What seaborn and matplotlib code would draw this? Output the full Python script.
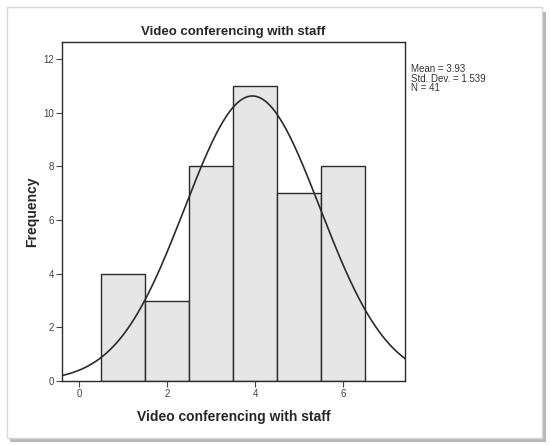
import numpy as np
import pandas as pd
import matplotlib
matplotlib.use('Agg')
import matplotlib.pyplot as plt
import seaborn as sns
from matplotlib.patches import Rectangle

# Veriler (SPSS histogramından okundu)
scores = [1, 2, 3, 4, 5, 6]
freqs = [4, 3, 8, 11, 7, 8]
mean_val = 3.93
sd_val = 1.539
n_total = 41
title = 'Video conferencing with staff'

sns.set_style('white')
plt.rcParams['font.family'] = ['Liberation Sans', 'DejaVu Sans']

df = pd.DataFrame({'score': scores, 'freq': freqs})

fig = plt.figure(figsize=(5.5, 4.45), dpi=100)

# dış çerçeve + gölge
fig.patches.append(Rectangle((0.018, 0.006), 0.974, 0.968, transform=fig.transFigure,
                             facecolor='#b8b8b8', edgecolor='none', zorder=0))
fig.patches.append(Rectangle((0.012, 0.016), 0.974, 0.968, transform=fig.transFigure,
                             facecolor='white', edgecolor='#d8d8d8', lw=1, zorder=1))

ax = fig.add_axes([0.1133, 0.1438, 0.6231, 0.7612])
ax.set_zorder(2)

sns.histplot(data=df, x='score', weights='freq', discrete=True, ax=ax,
             color='#e6e6e6', edgecolor='#2b2b2b', linewidth=1.0, alpha=1)

# normal eğri
xs = np.linspace(-0.39, 7.40, 300)
ys = n_total * np.exp(-0.5 * ((xs - mean_val) / sd_val) ** 2) / (sd_val * np.sqrt(2 * np.pi))
sns.lineplot(x=xs, y=ys, ax=ax, color='#2b2b2b', linewidth=1.2)

ax.set_xlim(-0.39, 7.40)
ax.set_ylim(0, 12.63)
ax.set_xticks([0, 2, 4, 6])
ax.set_yticks([0, 2, 4, 6, 8, 10, 12])
ax.tick_params(axis='both', labelsize=7, colors='#444444', length=4, width=0.8,
               direction='out', bottom=True, left=True, pad=2)
for s in ax.spines.values():
    s.set_color('#2b2b2b')
    s.set_linewidth(1.0)

ax.set_title(title, fontsize=9.5, fontweight='bold', pad=5)
ax.set_xlabel(title, fontsize=10, fontweight='bold', labelpad=8)
ax.set_ylabel('Frequency', fontsize=10, fontweight='bold', labelpad=3)

fig.text(0.747, 0.856, 'Mean = 3.93\nStd. Dev. = 1.539\nN = 41', fontsize=7,
         color='#333333', va='top', ha='left', linespacing=0.95)

plt.savefig('out.png', dpi=100)
